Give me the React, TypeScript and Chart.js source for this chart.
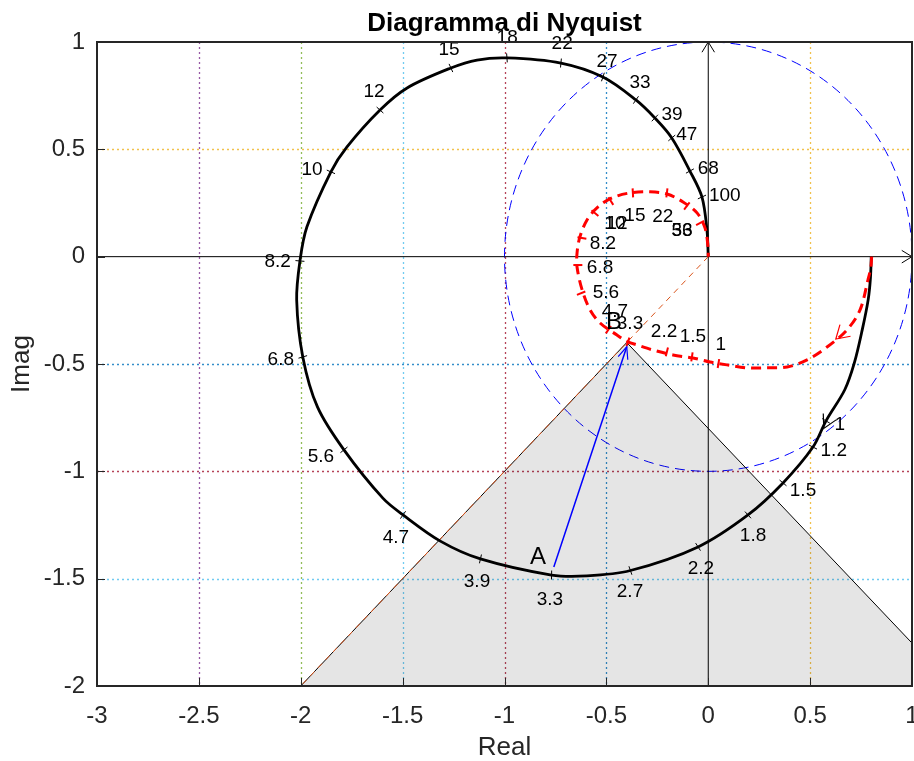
import React, { useEffect, useRef } from 'react';
import { Chart, registerables } from 'chart.js';
Chart.register(...registerables);

const FONT = '"Liberation Sans", Arial, Helvetica, sans-serif';

const xTicks = [-3, -2.5, -2, -1.5, -1, -0.5, 0, 0.5, 1];
const yTicks = [-2, -1.5, -1, -0.5, 0, 0.5, 1];
const xGridColors: Record<string, string> = { '-2.5': '#7E2F8E', '-2': '#77AC30', '-1.5': '#4DBEEE', '-1': '#A2142F', '-0.5': '#0072BD', '0.5': '#EDB120' };
const yGridColors: Record<string, string> = { '0.5': '#EDB120', '-0.5': '#0072BD', '-1': '#A2142F', '-1.5': '#4DBEEE' };

// Black Nyquist curve
const blackRe = [0.8, 0.796, 0.785, 0.756, 0.717, 0.67, 0.578, 0.514, 0.367, 0.195, -0.05, -0.382, -0.596, -0.769, -1.118, -1.315, -1.498, -1.597, -1.788, -1.918, -1.99, -2.02, -2.004, -1.97, -1.852, -1.774, -1.611, -1.478, -1.263, -1.135, -0.988, -0.723, -0.517, -0.355, -0.262, -0.179, -0.09, -0.031, -0.006, 0];
const blackIm = [0, -0.1, -0.2, -0.34, -0.495, -0.62, -0.765, -0.887, -1.054, -1.203, -1.352, -1.462, -1.487, -1.483, -1.408, -1.325, -1.203, -1.125, -0.9, -0.7, -0.467, -0.202, -0.02, 0.138, 0.395, 0.51, 0.683, 0.786, 0.879, 0.916, 0.926, 0.902, 0.837, 0.73, 0.646, 0.553, 0.399, 0.278, 0.12, 0];
const blackFreq = ['1', '1.2', '1.5', '1.8', '2.2', '2.7', '3.3', '3.9', '4.7', '5.6', '6.8', '8.2', '10', '12', '15', '18', '22', '27', '33', '39', '47', '68', '100'];
const blackTickRe = [0.578, 0.514, 0.367, 0.195, -0.05, -0.382, -0.769, -1.118, -1.498, -1.788, -1.99, -2.004, -1.852, -1.611, -1.263, -0.988, -0.723, -0.517, -0.355, -0.262, -0.179, -0.09, -0.031];
const blackTickIm = [-0.765, -0.887, -1.054, -1.203, -1.352, -1.462, -1.483, -1.408, -1.203, -0.9, -0.467, -0.02, 0.395, 0.683, 0.879, 0.926, 0.902, 0.837, 0.73, 0.646, 0.553, 0.399, 0.278];
const blackLabelRe = [0.646, 0.616, 0.465, 0.22, -0.036, -0.384, -0.777, -1.135, -1.533, -1.901, -2.098, -2.113, -1.945, -1.64, -1.272, -0.987, -0.717, -0.497, -0.335, -0.178, -0.105, 0, 0.081];
const blackLabelIm = [-0.784, -0.905, -1.092, -1.3, -1.455, -1.562, -1.599, -1.515, -1.31, -0.933, -0.481, -0.025, 0.404, 0.767, 0.963, 1.019, 0.991, 0.907, 0.809, 0.66, 0.567, 0.408, 0.283];

// Red (compensated) Nyquist curve
const redRe = [0.802, 0.798, 0.784, 0.745, 0.681, 0.583, 0.485, 0.387, 0.288, 0.19, 0.092, 0.009, -0.075, -0.173, -0.271, -0.35, -0.394, -0.448, -0.531, -0.58, -0.619, -0.644, -0.644, -0.63, -0.595, -0.541, -0.472, -0.384, -0.286, -0.202, -0.124, -0.055, -0.016, -0.001, 0];
const redIm = [0, -0.05, -0.108, -0.248, -0.341, -0.421, -0.481, -0.514, -0.518, -0.518, -0.504, -0.491, -0.472, -0.458, -0.435, -0.411, -0.397, -0.365, -0.309, -0.248, -0.155, -0.048, 0.017, 0.092, 0.171, 0.232, 0.274, 0.297, 0.302, 0.292, 0.255, 0.204, 0.134, 0.045, 0];
const redFreq = ['1', '1.5', '2.2', '3.3', '4.7', '5.6', '6.8', '8.2', '10', '12', '15', '22', '33', '56'];
const redTickRe = [0.05, -0.08, -0.203, -0.394, -0.49, -0.624, -0.64, -0.62, -0.556, -0.478, -0.37, -0.203, -0.105, -0.04];
const redTickIm = [-0.498, -0.467, -0.444, -0.397, -0.34, -0.17, -0.039, 0.087, 0.203, 0.259, 0.297, 0.297, 0.236, 0.157];
const redLabelRe = [0.062, -0.075, -0.217, -0.384, -0.458, -0.502, -0.531, -0.517, -0.458, -0.448, -0.36, -0.223, -0.129, -0.129];
const redLabelIm = [-0.411, -0.374, -0.351, -0.313, -0.258, -0.169, -0.053, 0.059, 0.152, 0.152, 0.19, 0.185, 0.12, 0.12];

// Cone (forbidden region) and construction points
const coneRe = [-2, -0.4, 1];
const coneIm = [-2, -0.4, -1.8];
const rayRe = [0, -2];
const rayIm = [0, -2];
const pointA = { re: -0.758, im: -1.446 };
const pointB = { re: -0.4, im: -0.42 };
const labelA = { text: 'A', re: -0.836, im: -1.4 };
const labelB = { text: 'B', re: -0.462, im: -0.304 };
const unitRadius = 1;
const blackArrow = { tipRe: 0.567, tipIm: -0.8, fromRe: 0.62, fromIm: -0.7 };
const redArrow = { tipRe: 0.626, tipIm: -0.384, fromRe: 0.7, fromIm: -0.32 };

const toXY = (re: number[], im: number[]) => re.map((r, i) => ({ x: r, y: im[i] }));

function arrowHead(ctx: CanvasRenderingContext2D, tx: number, ty: number, fx: number, fy: number, len: number, half: number) {
  const ang = Math.atan2(fy - ty, fx - tx);
  ctx.beginPath();
  ctx.moveTo(tx + len * Math.cos(ang + half), ty + len * Math.sin(ang + half));
  ctx.lineTo(tx, ty);
  ctx.lineTo(tx + len * Math.cos(ang - half), ty + len * Math.sin(ang - half));
  ctx.stroke();
}

function curveTicks(ctx: CanvasRenderingContext2D, xs: any, ys: any, cRe: number[], cIm: number[], tRe: number[], tIm: number[], len: number) {
  const pts = cRe.map((r, i) => [xs.getPixelForValue(r), ys.getPixelForValue(cIm[i])]);
  tRe.forEach((r, i) => {
    const px = xs.getPixelForValue(r), py = ys.getPixelForValue(tIm[i]);
    let best = Infinity, dx = 1, dy = 0;
    for (let k = 0; k < pts.length - 1; k++) {
      const [x1, y1] = pts[k], [x2, y2] = pts[k + 1];
      const sx = x2 - x1, sy = y2 - y1, L2 = sx * sx + sy * sy;
      if (!L2) continue;
      let t = ((px - x1) * sx + (py - y1) * sy) / L2;
      t = Math.max(0, Math.min(1, t));
      const qx = x1 + t * sx - px, qy = y1 + t * sy - py, d = qx * qx + qy * qy;
      if (d < best) { best = d; const L = Math.sqrt(L2); dx = sx / L; dy = sy / L; }
    }
    const nx = -dy, ny = dx;
    ctx.beginPath();
    ctx.moveTo(px - nx * len / 2, py - ny * len / 2);
    ctx.lineTo(px + nx * len / 2, py + ny * len / 2);
    ctx.stroke();
  });
}

const overlay = {
  id: 'overlay',
  beforeDatasetsDraw(chart: any) {
    const { ctx, chartArea: a, scales: { x, y } } = chart;
    ctx.save();
    ctx.lineWidth = 1.3;
    ctx.globalAlpha = 0.8;
    ctx.setLineDash([2, 3]);
    xTicks.forEach((v) => {
      const c = xGridColors[String(v)];
      if (!c) return;
      const px = Math.round(x.getPixelForValue(v)) + 0.5;
      ctx.strokeStyle = c;
      ctx.beginPath(); ctx.moveTo(px, a.top); ctx.lineTo(px, a.bottom); ctx.stroke();
    });
    yTicks.forEach((v) => {
      const c = yGridColors[String(v)];
      if (!c) return;
      const py = Math.round(y.getPixelForValue(v)) + 0.5;
      ctx.strokeStyle = c;
      ctx.beginPath(); ctx.moveTo(a.left, py); ctx.lineTo(a.right, py); ctx.stroke();
    });
    ctx.globalAlpha = 1;
    const cx = x.getPixelForValue(0), cy = y.getPixelForValue(0);
    const rx = x.getPixelForValue(unitRadius) - cx, ry = cy - y.getPixelForValue(unitRadius);
    ctx.lineWidth = 1;
    ctx.setLineDash([10, 6]);
    ctx.strokeStyle = '#0000ff';
    ctx.beginPath(); ctx.ellipse(cx, cy, rx, ry, 0, 0, Math.PI * 2); ctx.stroke();
    ctx.restore();
  },
  afterDatasetsDraw(chart: any) {
    const { ctx, chartArea: a, scales: { x, y } } = chart;
    ctx.save();
    ctx.setLineDash([]);
    ctx.strokeStyle = '#000'; ctx.lineWidth = 1;
    curveTicks(ctx, x, y, blackRe, blackIm, blackTickRe, blackTickIm, 9);
    ctx.strokeStyle = '#ff0000'; ctx.lineWidth = 2;
    curveTicks(ctx, x, y, redRe, redIm, redTickRe, redTickIm, 9);
    ctx.lineWidth = 1.2;
    ctx.strokeStyle = '#000';
    arrowHead(ctx, x.getPixelForValue(blackArrow.tipRe), y.getPixelForValue(blackArrow.tipIm), x.getPixelForValue(blackArrow.fromRe), y.getPixelForValue(blackArrow.fromIm), 15, 0.5);
    ctx.strokeStyle = '#ff0000';
    arrowHead(ctx, x.getPixelForValue(redArrow.tipRe), y.getPixelForValue(redArrow.tipIm), x.getPixelForValue(redArrow.fromRe), y.getPixelForValue(redArrow.fromIm), 15, 0.55);
    ctx.strokeStyle = '#0000ff';
    arrowHead(ctx, x.getPixelForValue(pointB.re), y.getPixelForValue(pointB.im), x.getPixelForValue(pointA.re), y.getPixelForValue(pointA.im), 13, 0.4);
    ctx.strokeStyle = '#000'; ctx.lineWidth = 1;
    arrowHead(ctx, x.getPixelForValue(0), y.getPixelForValue(1), x.getPixelForValue(0), y.getPixelForValue(0), 12, 0.55);
    arrowHead(ctx, x.getPixelForValue(1), y.getPixelForValue(0), x.getPixelForValue(0), y.getPixelForValue(0), 12, 0.55);
    ctx.fillStyle = '#000';
    ctx.textAlign = 'center';
    ctx.textBaseline = 'middle';
    ctx.font = `19px ${FONT}`;
    blackFreq.forEach((t, i) => ctx.fillText(t, x.getPixelForValue(blackLabelRe[i]), y.getPixelForValue(blackLabelIm[i])));
    redFreq.forEach((t, i) => ctx.fillText(t, x.getPixelForValue(redLabelRe[i]), y.getPixelForValue(redLabelIm[i])));
    ctx.font = `24px ${FONT}`;
    ctx.fillText(labelA.text, x.getPixelForValue(labelA.re), y.getPixelForValue(labelA.im));
    ctx.fillText(labelB.text, x.getPixelForValue(labelB.re), y.getPixelForValue(labelB.im));
    ctx.strokeStyle = '#262626'; ctx.lineWidth = 2;
    ctx.strokeRect(a.left, a.top, a.right - a.left, a.bottom - a.top);
    ctx.lineWidth = 1;
    xTicks.forEach((v) => {
      const px = Math.round(x.getPixelForValue(v)) + 0.5;
      ctx.beginPath(); ctx.moveTo(px, a.bottom); ctx.lineTo(px, a.bottom - 8); ctx.stroke();
    });
    yTicks.forEach((v) => {
      const py = Math.round(y.getPixelForValue(v)) + 0.5;
      ctx.beginPath(); ctx.moveTo(a.left, py); ctx.lineTo(a.left + 8, py); ctx.stroke();
    });
    ctx.restore();
  },
  afterDraw(chart: any) {
    const { ctx, chartArea: a } = chart;
    ctx.save();
    ctx.fillStyle = '#000';
    ctx.textAlign = 'center';
    ctx.textBaseline = 'alphabetic';
    ctx.font = `bold 26px ${FONT}`;
    ctx.fillText('Diagramma di Nyquist', (a.left + a.right) / 2, 31);
    ctx.fillStyle = '#262626';
    ctx.textBaseline = 'middle';
    ctx.font = `26px ${FONT}`;
    ctx.fillText('Real', (a.left + a.right) / 2, 748);
    ctx.translate(22, (a.top + a.bottom) / 2);
    ctx.rotate(-Math.PI / 2);
    ctx.fillText('Imag', 0, 0);
    ctx.restore();
  },
};

export default function App() {
  const ref = useRef<HTMLCanvasElement>(null);
  useEffect(() => {
    if (!ref.current) return;
    const line = (data: any[], extra: any) => ({ data, pointRadius: 0, pointHoverRadius: 0, fill: false, tension: 0, cubicInterpolationMode: 'default', ...extra });
    const chart = new Chart(ref.current, {
      type: 'line',
      data: {
        datasets: [
          line(toXY(redRe, redIm), { borderColor: '#ff0000', borderWidth: 3, borderDash: [10, 6], tension: 0.33, order: 0 }),
          line(toXY(blackRe, blackIm), { borderColor: '#000000', borderWidth: 2.8, tension: 0.33, order: 1 }),
          line([{ x: pointA.re, y: pointA.im }, { x: pointB.re, y: pointB.im }], { borderColor: '#0000ff', borderWidth: 1.5, order: 2 }),
          line(toXY(rayRe, rayIm), { borderColor: '#D95319', borderWidth: 1, borderDash: [6, 5], order: 3 }),
          line([{ x: -3, y: 0 }, { x: 1, y: 0 }], { borderColor: '#000000', borderWidth: 1, order: 4 }),
          line([{ x: 0, y: -2 }, { x: 0, y: 1 }], { borderColor: '#000000', borderWidth: 1, order: 5 }),
          line(toXY(coneRe, coneIm), { borderColor: '#000000', borderWidth: 1, fill: 'start', backgroundColor: 'rgba(0,0,0,0.1)', order: 6 }),
        ],
      },
      options: {
        animation: false,
        responsive: false,
        devicePixelRatio: 1,
        layout: { padding: { top: 42, right: 2, left: 0, bottom: 0 } },
        plugins: { legend: { display: false }, tooltip: { enabled: false }, title: { display: false } },
        scales: {
          x: {
            type: 'linear', min: -3, max: 1,
            afterBuildTicks: (s: any) => { s.ticks = xTicks.map((v) => ({ value: v })); },
            afterFit: (s: any) => { s.height = 75; s.paddingLeft = 0; s.paddingRight = 0; },
            grid: { display: false, drawTicks: false },
            border: { display: false },
            ticks: { color: '#262626', font: { size: 24, family: FONT }, padding: 16, maxRotation: 0, autoSkip: false, callback: (v: any) => String(v) },
          },
          y: {
            type: 'linear', min: -2, max: 1,
            afterBuildTicks: (s: any) => { s.ticks = yTicks.map((v) => ({ value: v })); },
            afterFit: (s: any) => { s.width = 97; s.paddingTop = 0; s.paddingBottom = 0; },
            grid: { display: false, drawTicks: false },
            border: { display: false },
            ticks: { color: '#262626', font: { size: 24, family: FONT }, padding: 12, autoSkip: false, callback: (v: any) => String(v) },
          },
        },
      },
      plugins: [overlay],
    } as any);
    return () => chart.destroy();
  }, []);
  return (
    <div style={{ position: 'absolute', left: 0, top: 0, width: 914, height: 761, background: '#fff' }}>
      <canvas ref={ref} width={914} height={761} style={{ width: 914, height: 761, display: 'block' }} />
    </div>
  );
}
